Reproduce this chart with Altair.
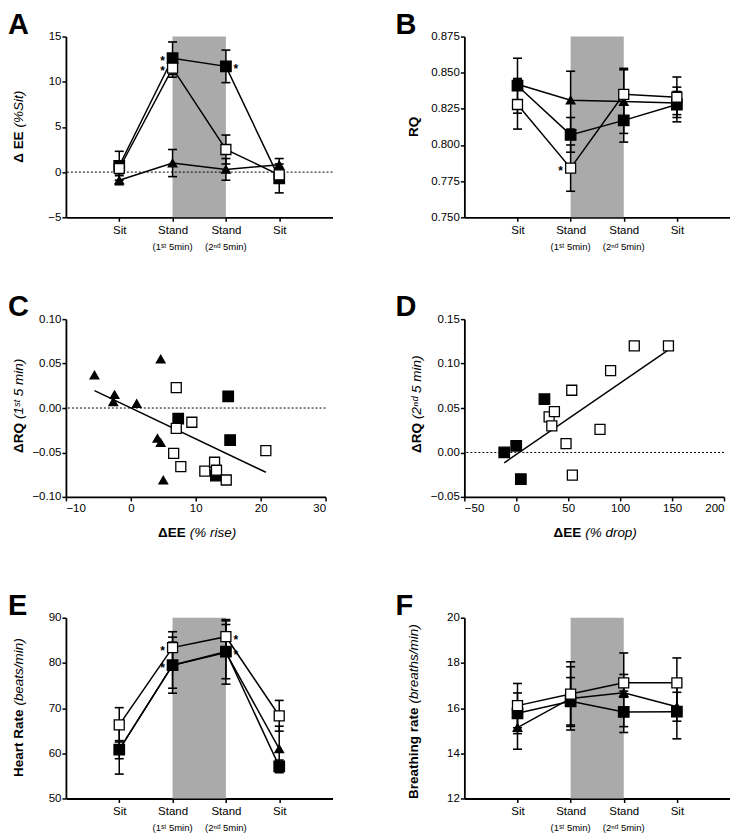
import altair as alt
import pandas as pd

FONT = "Liberation Sans"
SHADE = "#aaaaaa"

# ---------------- shared categories ----------------
stage_pos = [1, 2, 3, 4]
stage_names = ["Sit", "Stand", "Stand", "Sit"]
stage_sub = ["", "(1ˢᵗ 5min)", "(2ⁿᵈ 5min)", ""]
stand_span = [2, 3]
time_domain = [0, 5]

# ---------------- A: delta EE (%Sit) ----------------
a_filled = [0.7, 12.6, 11.7, -0.7]
a_filled_se = [1.6, 1.8, 1.8, 1.6]
a_open = [0.4, 11.5, 2.5, -0.3]
a_open_se = [0.6, 1.0, 1.6, 0.6]
a_tri = [-0.9, 1.0, 0.3, 0.8]
a_tri_se = [0.5, 1.5, 1.2, 0.7]
a_stars_left = [(2, 12.6), (2, 11.5)]
a_stars_right = [(3, 11.7)]

# ---------------- B: RQ ----------------
b_filled = [0.841, 0.807, 0.817, 0.828]
b_filled_se = [0.019, 0.012, 0.015, 0.012]
b_open = [0.828, 0.784, 0.835, 0.833]
b_open_se = [0.017, 0.016, 0.018, 0.014]
b_tri = [0.842, 0.831, 0.830, 0.829]
b_tri_se = [0.004, 0.020, 0.022, 0.008]
b_stars_left = [(2, 0.784)]
b_stars_right = []

# ---------------- C: dRQ (1st 5 min) vs dEE (% rise) ----------------
c_tri_x = [-5.6, -2.5, -2.7, 0.9, 4.6, 4.1, 4.6, 5.0]
c_tri_y = [0.037, 0.015, 0.007, 0.005, 0.055, -0.034, -0.039, -0.081]
c_filled_x = [7.3, 15.0, 15.3, 13.1]
c_filled_y = [-0.012, 0.013, -0.036, -0.076]
c_open_x = [7.0, 7.0, 9.4, 6.6, 7.7, 11.4, 12.9, 13.2, 14.7, 20.8]
c_open_y = [0.023, -0.023, -0.016, -0.051, -0.066, -0.071, -0.061, -0.070, -0.081, -0.048]
c_fit_x = [-5.6, 20.8]
c_fit_y = [0.0196, -0.0723]

# ---------------- D: dRQ (2nd 5 min) vs dEE (% drop) ----------------
d_filled_x = [-11.6, -0.1, 4.4, 27.1]
d_filled_y = [0.0, 0.0075, -0.030, 0.060]
d_open_x = [31.6, 36.7, 34.2, 53.4, 47.9, 54.0, 80.6, 90.8, 113.6, 146.5]
d_open_y = [0.040, 0.046, 0.030, 0.070, 0.010, -0.0255, 0.026, 0.092, 0.120, 0.120]
d_fit_x = [-11.6, 146.2]
d_fit_y = [-0.0116, 0.1152]

# ---------------- E: heart rate ----------------
e_filled = [60.8, 79.5, 82.5, 57.1]
e_filled_se = [5.4, 5.1, 6.0, 1.4]
e_open = [66.3, 83.4, 85.8, 68.3]
e_open_se = [3.8, 3.5, 3.8, 3.4]
e_tri = [60.8, 79.5, 82.3, 61.0]
e_tri_se = [2.0, 6.2, 7.0, 5.0]
e_stars_left = [(2, 83.4), (2, 79.5)]
e_stars_right = [(3, 85.8), (3, 82.5)]

# ---------------- F: breathing rate ----------------
f_filled = [15.77, 16.30, 15.83, 15.84]
f_filled_se = [0.90, 1.05, 0.65, 1.20]
f_open = [16.11, 16.62, 17.12, 17.12]
f_open_se = [0.98, 1.43, 0.37, 1.10]
f_tri = [15.14, 16.43, 16.68, 16.06]
f_tri_se = [0.96, 1.40, 1.76, 0.64]

STYLE = {
    "filled": dict(shape="square", fill="black", size=110),
    "open": dict(shape="square", fill="white", size=100),
    "triangle": dict(shape="triangle-up", fill="black", size=75),
}
ORDER = ["triangle", "filled", "open"]
LETTER_Y = -26


def ax(**kw):
    d = dict(domainColor="black", domainWidth=1.8, tickColor="black", tickWidth=1.5,
             tickSize=4, labelFont=FONT, labelFontSize=11.5, labelColor="black",
             grid=False, title=None, labelPadding=2)
    d.update(kw)
    return alt.Axis(**d)


def txt(text, **kw):
    return alt.Chart(pd.DataFrame({"t": [text]})).mark_text(font=FONT, color="black", **kw)


def letter_layer(letter, lx):
    return txt(letter, fontSize=29, fontWeight="bold", align="left", baseline="top").encode(
        x=alt.value(lx), y=alt.value(LETTER_Y), text="t:N")


def ytitle_layers(bold, ital, tx, junc, H):
    out = []
    if ital:
        out.append(txt(bold, fontSize=13.5, fontWeight="bold", angle=270, align="right",
                       baseline="middle").encode(x=alt.value(tx), y=alt.value(junc), text="t:N"))
        out.append(txt(ital, fontSize=13.5, fontStyle="italic", angle=270, align="left",
                       baseline="middle").encode(x=alt.value(tx), y=alt.value(junc - 4), text="t:N"))
    else:
        out.append(txt(bold, fontSize=13.5, fontWeight="bold", angle=270, align="center",
                       baseline="middle").encode(x=alt.value(tx), y=alt.value(H / 2), text="t:N"))
    return out


def time_panel(letter, lx, series, ydom, yticks, yfmt, tb, ti, tx, junc,
               stars_l, stars_r, zero_line, W, H):
    xs = alt.Scale(domain=time_domain, nice=False, zero=False)
    ys = alt.Scale(domain=ydom, nice=False, zero=False)
    lab = "[" + ",".join("'%s'" % s for s in [""] + stage_names) + "][datum.value]"
    xax = ax(values=stage_pos, labelExpr=lab, labelPadding=3)
    yax = ax(values=yticks, format=yfmt, labelPadding=1)

    def X(f):
        return alt.X(f"{f}:Q", scale=xs, axis=xax)

    def Y(f):
        return alt.Y(f"{f}:Q", scale=ys, axis=yax)

    layers = []
    shade = pd.DataFrame({"x": [stand_span[0]], "x2": [stand_span[1]],
                          "y": [ydom[1]], "y2": [ydom[0]]})
    layers.append(alt.Chart(shade).mark_rect(color=SHADE).encode(
        x=X("x"), x2="x2", y=Y("y"), y2="y2"))
    if zero_line:
        layers.append(alt.Chart(pd.DataFrame({"y": [0]})).mark_rule(
            color="black", strokeDash=[2, 2], strokeWidth=1).encode(y=Y("y")))
    rows = []
    for name in ORDER:
        vals, ses = series[name]
        for p, v, e in zip(stage_pos, vals, ses):
            rows.append({"series": name, "x": p, "y": v, "lo": v - e, "hi": v + e})
    df = pd.DataFrame(rows)
    layers.append(alt.Chart(df).mark_rule(color="black", strokeWidth=1.5).encode(
        x=X("x"), y=Y("lo"), y2="hi"))
    for f in ["lo", "hi"]:
        layers.append(alt.Chart(df).mark_tick(orient="horizontal", color="black", size=9,
                                              thickness=1.6, opacity=1).encode(x=X("x"), y=Y(f)))
    layers.append(alt.Chart(df).mark_line(color="black", strokeWidth=1.5).encode(
        x=X("x"), y=Y("y"), detail="series:N", order="x:Q"))
    for name in ORDER:
        st = STYLE[name]
        layers.append(alt.Chart(df[df.series == name]).mark_point(
            shape=st["shape"], filled=True, fill=st["fill"], stroke="black", strokeWidth=1.3,
            size=st["size"], opacity=1).encode(x=X("x"), y=Y("y")))
    for stars, dx in [(stars_l, -10), (stars_r, 10)]:
        if stars:
            sdf = pd.DataFrame({"x": [s[0] for s in stars], "y": [s[1] for s in stars]})
            layers.append(alt.Chart(sdf).mark_text(
                text="*", font=FONT, fontSize=12, fontWeight="bold", color="black",
                dx=dx, dy=3, align="center", baseline="middle").encode(x=X("x"), y=Y("y")))
    sub = pd.DataFrame({"x": stage_pos, "label": stage_sub})
    layers.append(alt.Chart(sub).mark_text(font=FONT, fontSize=9.5, color="black",
                                           baseline="alphabetic").encode(
        x=X("x"), y=alt.value(H + 33), text="label:N"))
    layers += ytitle_layers(tb, ti, tx, junc, H)
    layers.append(letter_layer(letter, lx))
    return alt.layer(*layers).properties(width=W, height=H)


def scatter_panel(letter, lx, groups, fit_x, fit_y, xdom, xticks, ydom, yticks,
                  xb, xi, xjunc, tb, ti, tx, junc, W, H):
    xs = alt.Scale(domain=xdom, nice=False, zero=False)
    ys = alt.Scale(domain=ydom, nice=False, zero=False)
    xax = ax(values=xticks, format="d", labelPadding=2)
    yax = ax(values=yticks, format=".2f", labelPadding=1)

    def X(f):
        return alt.X(f"{f}:Q", scale=xs, axis=xax)

    def Y(f):
        return alt.Y(f"{f}:Q", scale=ys, axis=yax)

    layers = [alt.Chart(pd.DataFrame({"y": [0]})).mark_rule(
        color="black", strokeDash=[2, 2], strokeWidth=1).encode(y=Y("y"))]
    layers.append(alt.Chart(pd.DataFrame({"x": fit_x, "y": fit_y})).mark_line(
        color="black", strokeWidth=1.5).encode(x=X("x"), y=Y("y")))
    for name, xv, yv in groups:
        st = STYLE[name]
        layers.append(alt.Chart(pd.DataFrame({"x": xv, "y": yv})).mark_point(
            shape=st["shape"], filled=True, fill=st["fill"], stroke="black", strokeWidth=1.3,
            size=st["size"], opacity=1).encode(x=X("x"), y=Y("y")))
    layers.append(txt(xb, fontSize=13.5, fontWeight="bold", align="right",
                      baseline="alphabetic").encode(x=alt.value(xjunc), y=alt.value(H + 40), text="t:N"))
    layers.append(txt(xi, fontSize=13.5, fontStyle="italic", align="left",
                      baseline="alphabetic").encode(x=alt.value(xjunc + 4), y=alt.value(H + 40), text="t:N"))
    layers.append(txt(" ", fontSize=10, baseline="bottom").encode(
        x=alt.value(W / 2), y=alt.value(232), text="t:N"))
    layers += ytitle_layers(tb, ti, tx, junc, H)
    layers.append(letter_layer(letter, lx))
    return alt.layer(*layers).properties(width=W, height=H)


A = time_panel("A", -58, {"filled": (a_filled, a_filled_se), "open": (a_open, a_open_se),
                          "triangle": (a_tri, a_tri_se)},
               [-5, 15], [-5, 0, 5, 10, 15], "d", "Δ EE", "(%Sit)", -47, 95,
               a_stars_left, a_stars_right, True, 267, 181)
B = time_panel("B", -69, {"filled": (b_filled, b_filled_se), "open": (b_open, b_open_se),
                          "triangle": (b_tri, b_tri_se)},
               [0.75, 0.875], [0.75, 0.775, 0.8, 0.825, 0.85, 0.875], ".3f", "RQ", None, -50, 90,
               b_stars_left, b_stars_right, False, 266, 181)
C = scatter_panel("C", -58, [("triangle", c_tri_x, c_tri_y), ("filled", c_filled_x, c_filled_y),
                             ("open", c_open_x, c_open_y)],
                  c_fit_x, c_fit_y, [-10, 30], [-10, 0, 10, 20, 30], [-0.1, 0.1],
                  [-0.1, -0.05, 0, 0.05, 0.1], "ΔEE", "(% rise)", 120,
                  "ΔRQ", "(1ˢᵗ 5 min)", -47, 104, 260, 178)
D = scatter_panel("D", -69, [("filled", d_filled_x, d_filled_y), ("open", d_open_x, d_open_y)],
                  d_fit_x, d_fit_y, [-50, 200], [-50, 0, 50, 100, 150, 200], [-0.05, 0.15],
                  [-0.05, 0, 0.05, 0.1, 0.15], "ΔEE", "(% drop)", 117,
                  "ΔRQ", "(2ⁿᵈ 5 min)", -47, 104, 260, 178)
E = time_panel("E", -58, {"filled": (e_filled, e_filled_se), "open": (e_open, e_open_se),
                          "triangle": (e_tri, e_tri_se)},
               [50, 90], [50, 60, 70, 80, 90], "d", "Heart Rate", "(beats/min)", -47, 92,
               e_stars_left, e_stars_right, False, 267, 181)
F = time_panel("F", -69, {"filled": (f_filled, f_filled_se), "open": (f_open, f_open_se),
                          "triangle": (f_tri, f_tri_se)},
               [12, 20], [12, 14, 16, 18, 20], "d", "Breathing rate", "(breaths/min)", -50, 90,
               [], [], False, 266, 181)

chart = alt.concat(A, B, C, D, E, F, columns=2, spacing={"row": 41, "column": 62}).properties(
    padding={"left": 0, "top": 2, "right": 0, "bottom": 0}
).configure_view(stroke=None)

chart.save("out.html", embed_options={"renderer": "svg", "actions": False})
